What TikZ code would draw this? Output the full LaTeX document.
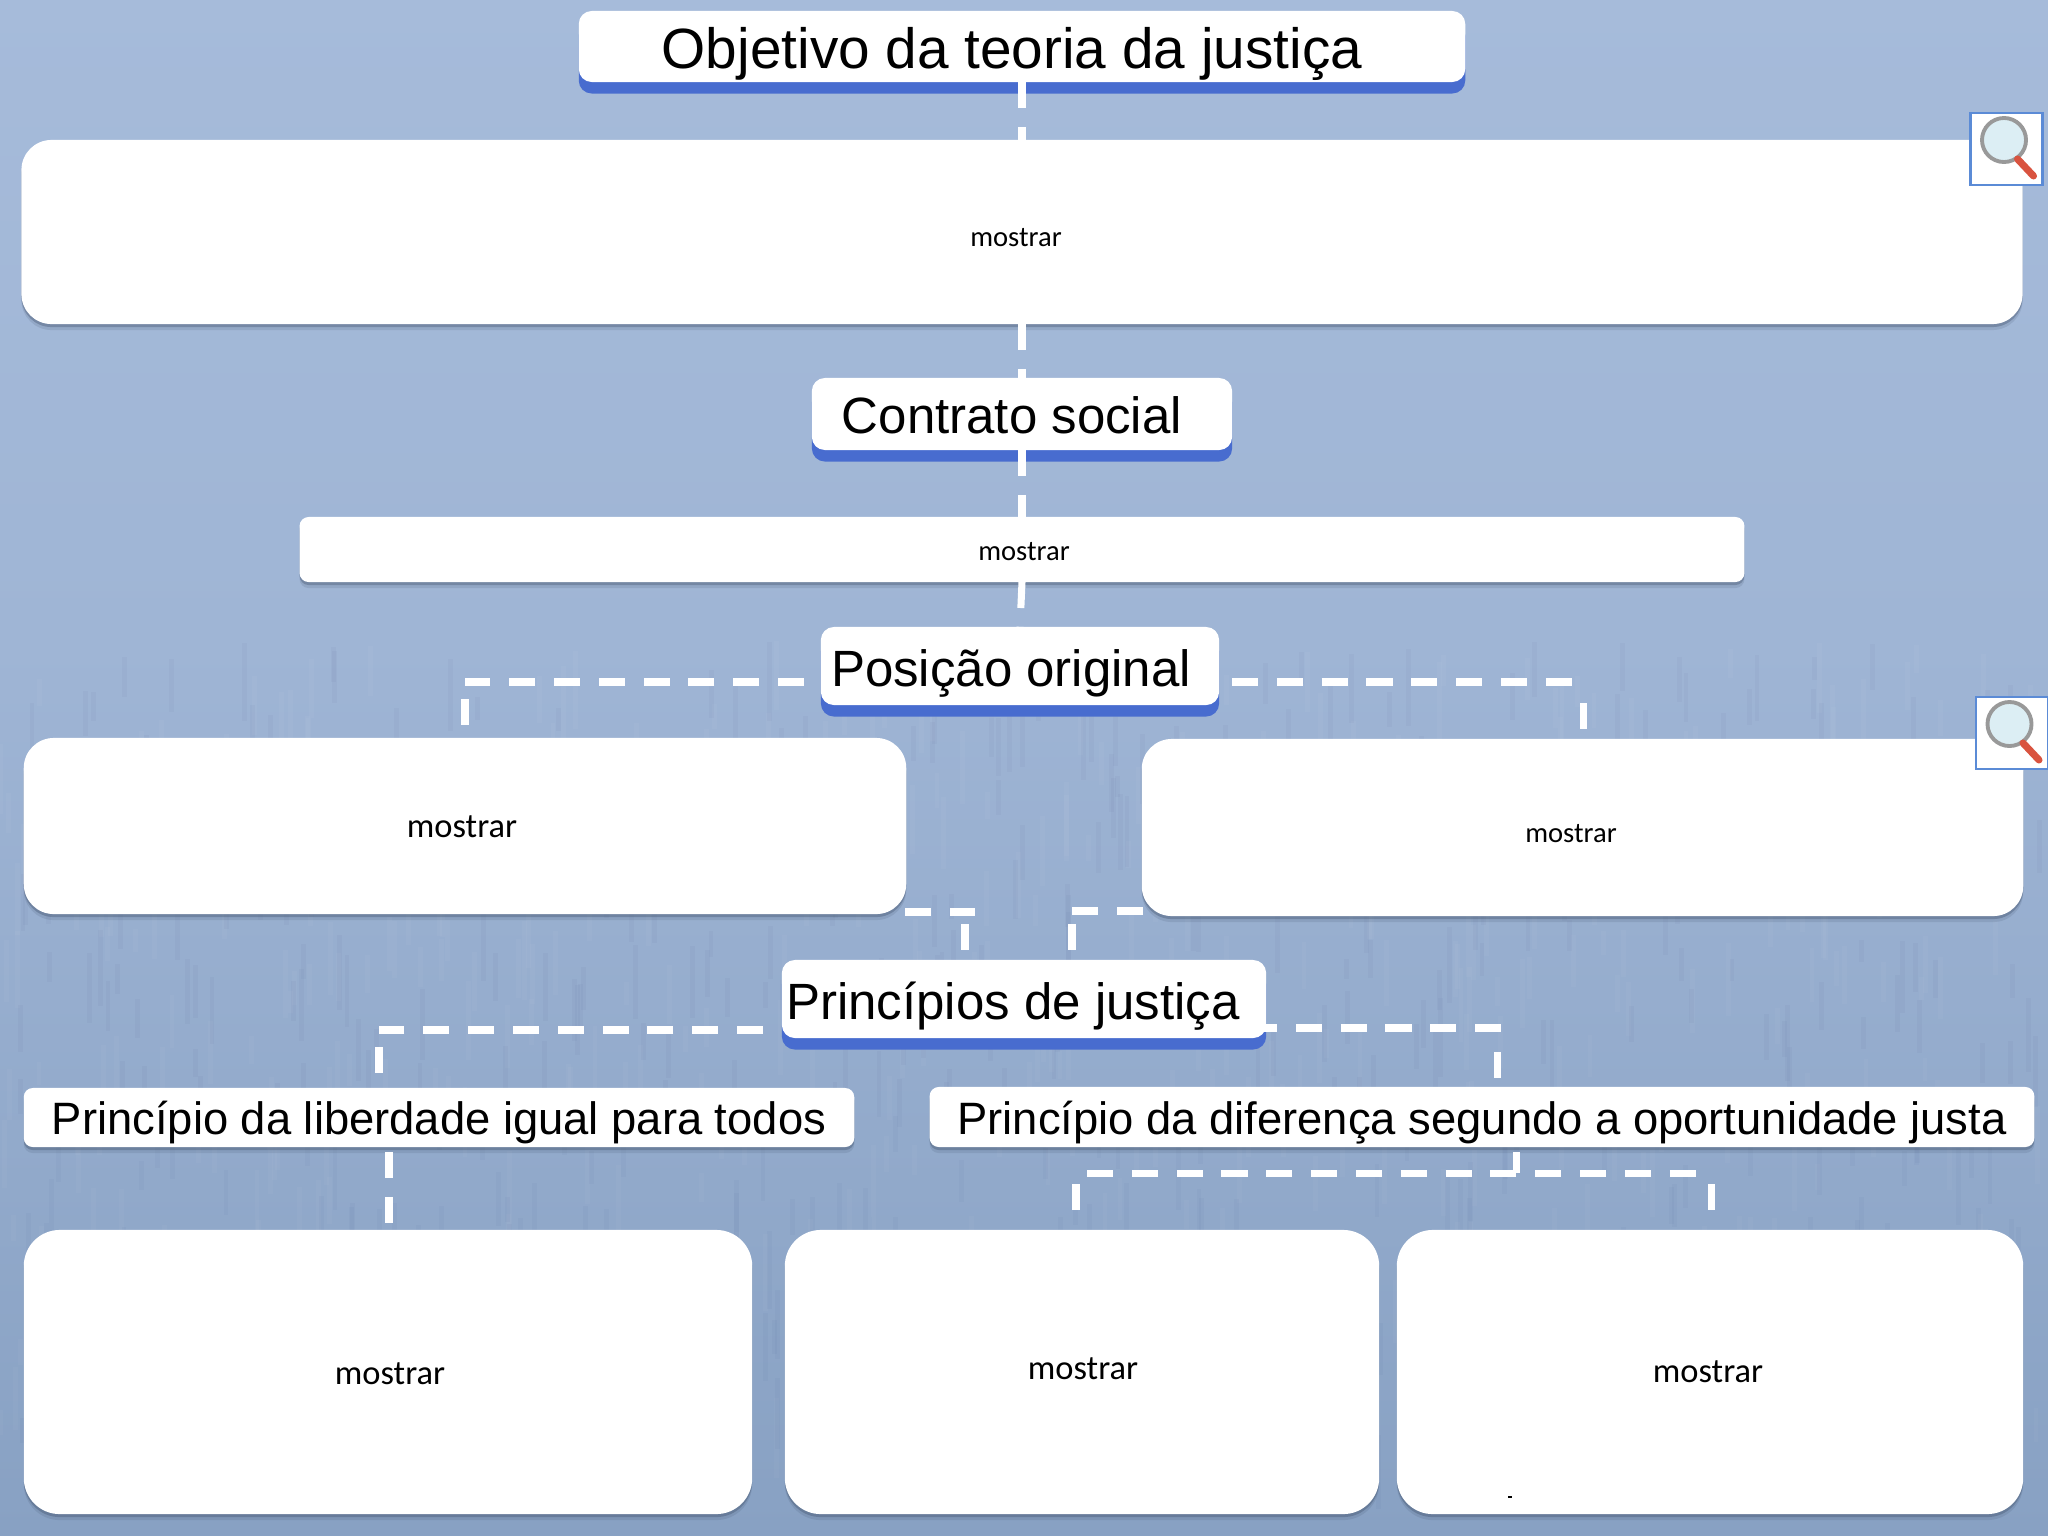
\documentclass[tikz,border=0pt]{standalone}
\usepackage{fontspec}
\setmainfont{Liberation Sans}
\newfontfamily\bodyfont{Carlito}
\usetikzlibrary{shadows,backgrounds,calc}
\definecolor{deepblue}{HTML}{486CCF}
\definecolor{glassblue}{HTML}{DCEEF4}
\definecolor{framecol}{HTML}{5B8BD6}
\definecolor{shadecol}{HTML}{3F4F68}
\definecolor{handlecol}{HTML}{D9533F}
\definecolor{bga}{HTML}{7E98BC}
\definecolor{bgb}{HTML}{88A1C3}
\definecolor{bgc}{HTML}{9FB5D5}
\definecolor{bgd}{HTML}{AEC2E0}
\pgfdeclareverticalshading{pagebg}{100bp}{
  color(0bp)=(bga);
  color(25bp)=(bgb);
  color(54bp)=(bgc);
  color(100bp)=(bgd)}
\tikzset{
  x=0.01cm,y=-0.01cm,
  whitebox/.style={fill=white,inner sep=0pt,outer sep=0pt,rounded corners=0.3cm,
    general shadow={fill=shadecol,fill opacity=0.15,shadow yshift=-0.06cm},
    general shadow={fill=shadecol,fill opacity=0.35,shadow yshift=-0.03cm}},
  flatbox/.style={whitebox,rounded corners=0.09cm},
  headbox/.style={fill=white,inner sep=0pt,outer sep=0pt,rounded corners=0.13cm,
    general shadow={fill=deepblue,shadow yshift=-0.115cm}},
  heading/.style={anchor=base,inner sep=0pt,text=black},
  bigtext/.style={heading,font=\fontsize{16.14pt}{18pt}\selectfont},
  flowtext/.style={heading,font=\fontsize{14.5pt}{16pt}\selectfont},
  midtext/.style={heading,font=\fontsize{12.9pt}{14pt}\selectfont},
  showtext/.style={heading,font=\bodyfont\fontsize{8.13pt}{10pt}\selectfont},
  showlarge/.style={heading,font=\bodyfont\fontsize{9.8pt}{12pt}\selectfont},
  link/.style={draw=white,line width=2pt,dash pattern=on 0.26cm off 0.188cm},
  lensframe/.style={fill=white,draw=framecol,line width=0.75pt,minimum size=0.72cm,inner sep=0pt},
}
\newcommand{\lens}[2]{%
  \node[lensframe] (#1) at (#2) {};
  \fill[glassblue] ($(#1)+(-2.5,-9)$) circle (0.22cm);
  \draw[black!40,line width=1.1pt] ($(#1)+(-2.5,-9)$) circle (0.22cm);
  \draw[handlecol,line width=2pt,line cap=round] ($(#1)+(11,10)$) -- ($(#1)+(27,27)$);
}
\begin{document}
\begin{tikzpicture}
\useasboundingbox (0,0) rectangle (2048,1536);

% heading boxes
\node[headbox,minimum width=8.86cm,minimum height=0.71cm] (goal) at (1022,46.5) {};
\node[headbox,minimum width=4.20cm,minimum height=0.72cm] (contract) at (1022,414) {};
\node[headbox,minimum width=3.98cm,minimum height=0.78cm] (position) at (1020,666) {};
\node[headbox,minimum width=4.84cm,minimum height=0.78cm] (principles) at (1024,999) {};
% white boxes
\node[whitebox,minimum width=20.00cm,minimum height=1.84cm] (goalbody) at (1022,232) {};
\node[flatbox,minimum width=14.44cm,minimum height=0.65cm] (contractbody) at (1022,549.5) {};
\node[whitebox,minimum width=8.82cm,minimum height=1.76cm] (left) at (465,826) {};
\node[whitebox,minimum width=8.81cm,minimum height=1.77cm] (right) at (1582.5,827.5) {};
\node[flatbox,minimum width=8.30cm,minimum height=0.59cm] (liberty) at (439,1117.5) {};
\node[flatbox,minimum width=11.04cm,minimum height=0.60cm] (difference) at (1482,1117) {};
\node[whitebox,rounded corners=0.36cm,minimum width=7.28cm,minimum height=2.84cm] (libbody) at (388,1372) {};
\node[whitebox,rounded corners=0.36cm,minimum width=5.94cm,minimum height=2.84cm] (diffa) at (1082,1372) {};
\node[whitebox,rounded corners=0.36cm,minimum width=6.26cm,minimum height=2.84cm] (diffb) at (1710,1372) {};

% texts
\node[bigtext] (t1) at (1012,68) {Objetivo da teoria da justiça};
\node[flowtext] (t2) at (1012,433) {Contrato social};
\node[flowtext] (t3) at (1011,686) {Posição original};
\node[flowtext] (t4) at (1013,1019) {Princípios de justiça};
\node[midtext] (t5) at (439,1134) {Princípio da liberdade igual para todos};
\node[midtext] (t6) at (1482,1134) {Princípio da diferença segundo a oportunidade justa};
\node[showtext] (m1) at (1016,246) {mostrar};
\node[showtext] (m2) at (1024,560) {mostrar};
\node[showlarge] (m3) at (462,837) {mostrar};
\node[showtext] (m4) at (1571,842) {mostrar};
\node[showlarge] (m5) at (390,1384) {mostrar};
\node[showlarge] (m6) at (1083,1379) {mostrar};
\node[showlarge] (m7) at (1708,1382) {mostrar};
\fill[black] (1508,1496) rectangle (1512,1498);

% magnifiers
\lens{lensa}{2006.5,149}
\lens{lensb}{2012,733}

% page background with a faint weave
\begin{scope}[on background layer]
\shade[shading=pagebg] (0,0) rectangle (2048,1536);
\pgfmathsetseed{7}
\foreach \i in {1,...,500} {
  \pgfmathsetmacro\xx{rnd*2040}
  \pgfmathsetmacro\yy{640+rnd*800}
  \pgfmathsetmacro\hh{20+rnd*60}
  \draw[white,opacity=0.03,line width=1.4pt] (\xx,\yy) -- (\xx,\yy+\hh);
}
\foreach \i in {1,...,500} {
  \pgfmathsetmacro\xx{rnd*2040}
  \pgfmathsetmacro\yy{640+rnd*800}
  \pgfmathsetmacro\hh{20+rnd*60}
  \draw[black!70!blue,opacity=0.025,line width=1.4pt] (\xx,\yy) -- (\xx,\yy+\hh);
}
\end{scope}

% connector ends
\coordinate (posl) at (804,682);
\coordinate (poslc) at (465,682);
\coordinate (poslt) at (465,699);
\coordinate (posld) at (465,725);
\coordinate (posr) at (1232,682);
\coordinate (posrc) at (1572,682);
\coordinate (posrt) at (1583,703);
\coordinate (posrd) at (1583,729);
\coordinate (pril) at (763,1030);
\coordinate (prilc) at (379,1030);
\coordinate (prilt) at (379,1047);
\coordinate (prild) at (379,1073);
\coordinate (prir) at (1251,1028);
\coordinate (prirc) at (1501,1028);
\coordinate (prirt) at (1497,1052);
\coordinate (prird) at (1497,1078);
\coordinate (lfoot) at (905,912);
\coordinate (lfootc) at (975,912);
\coordinate (ltop) at (965,924);
\coordinate (ldown) at (965,950);
\coordinate (rfoot) at (1143,911);
\coordinate (rfootc) at (1072,911);
\coordinate (rtop) at (1072,924);
\coordinate (rdown) at (1072,950);
\coordinate (libt) at (389,1152);
\coordinate (libd) at (389,1223);
\coordinate (stemt) at (1516,1152);
\coordinate (stemd) at (1516,1173);
\coordinate (forka) at (1087,1173);
\coordinate (forkb) at (1696,1173);
\coordinate (dat) at (1076,1184);
\coordinate (dad) at (1076,1210);
\coordinate (dbt) at (1711,1184);
\coordinate (dbd) at (1711,1210);

% connectors
\draw[link] (goal.south) -- (goalbody.north);
\draw[link] (goalbody.south) -- (contract.north);
\draw[link] (contract.south) -- (contractbody.north);
\draw[link] (contractbody.south) -- (position.north);
\draw[link] (posl) -- (poslc);
\draw[link] (poslt) -- (posld);
\draw[link] (posr) -- (posrc);
\draw[link] (posrt) -- (posrd);
\draw[link] (pril) -- (prilc);
\draw[link] (prilt) -- (prild);
\draw[link] (prir) -- (prirc);
\draw[link] (prirt) -- (prird);
\draw[link] (lfoot) -- (lfootc);
\draw[link] (ltop) -- (ldown);
\draw[link] (rfoot) -- (rfootc);
\draw[link] (rtop) -- (rdown);
\draw[link] (libt) -- (libd);
\draw[link] (stemt) -- (stemd);
\draw[link] (forka) -- (forkb);
\draw[link] (dat) -- (dad);
\draw[link] (dbt) -- (dbd);
\end{tikzpicture}
\end{document}
